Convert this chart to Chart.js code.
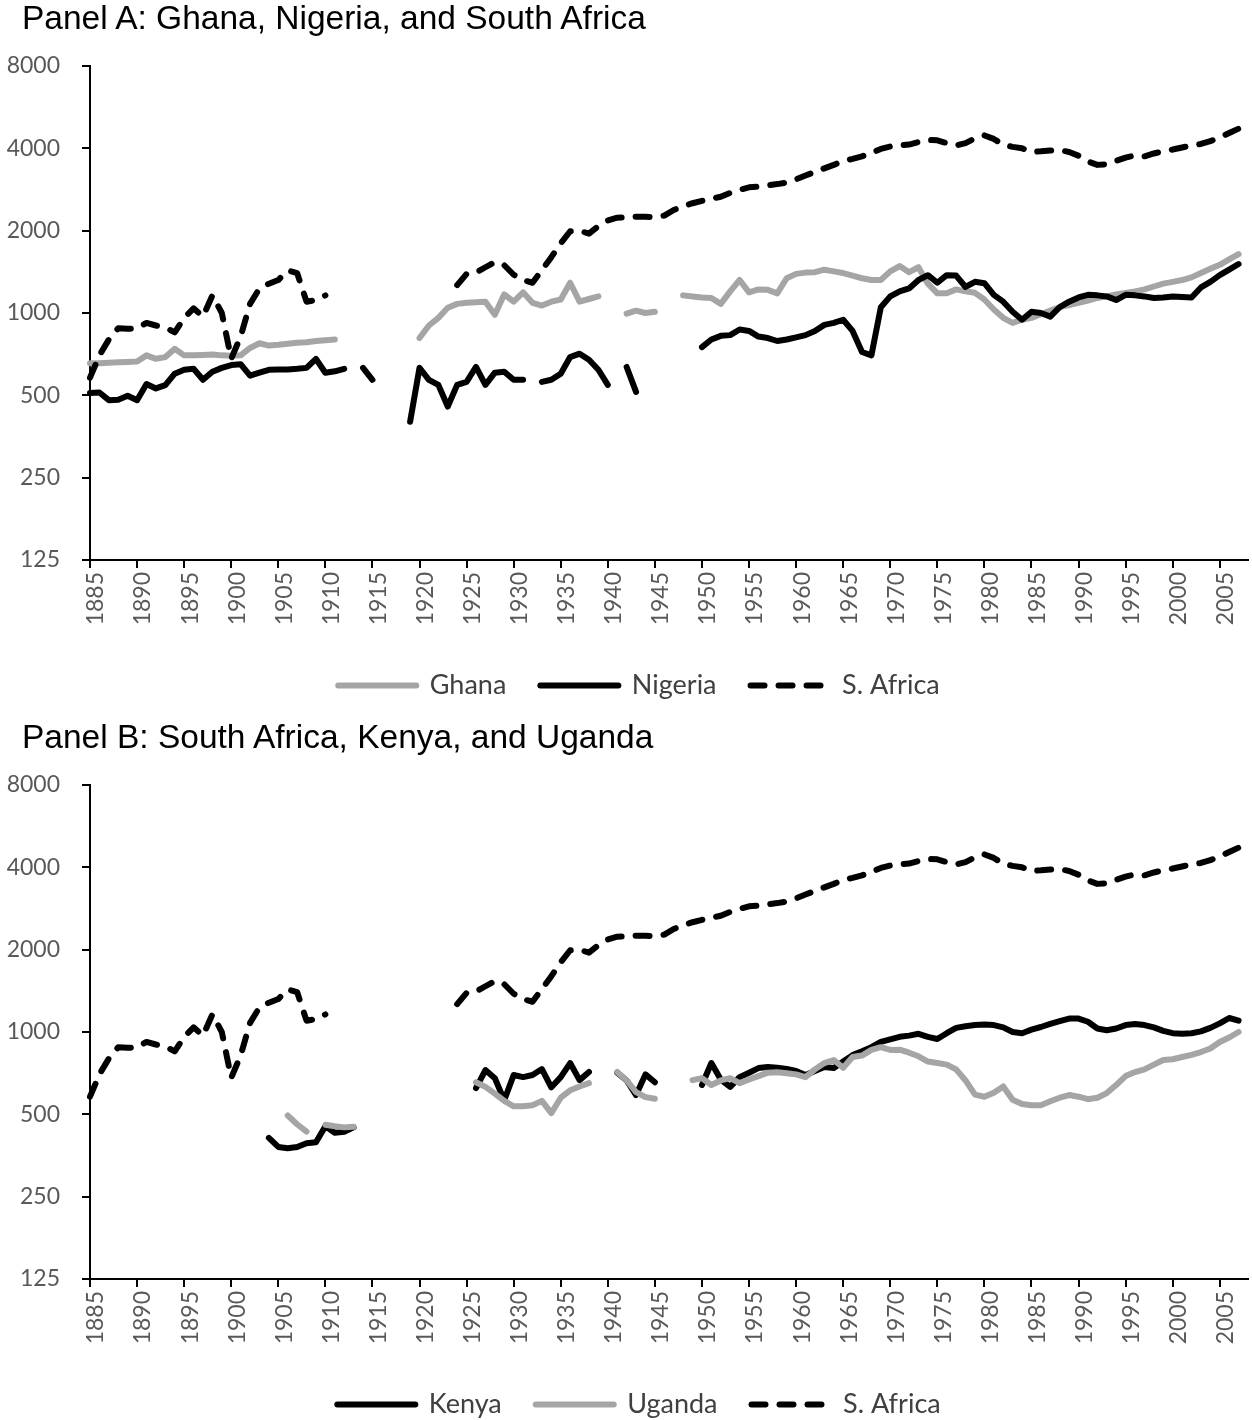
<!DOCTYPE html>
<html><head><meta charset="utf-8">
<script src="https://cdn.jsdelivr.net/npm/chart.js@4.4.1/dist/chart.umd.min.js"></script>
<style>
html,body{margin:0;padding:0;background:#fff;}
body{width:1252px;height:1420px;position:relative;overflow:hidden;}
.panel{position:absolute;left:0;width:1252px;height:710px;}
.title{position:absolute;left:22px;font-family:'Liberation Sans',Arial,sans-serif;font-size:33.5px;line-height:33px;color:#000;white-space:nowrap;z-index:2;}
</style></head><body>
<div class="panel" style="top:0"><canvas id="cA" width="1252" height="710"></canvas></div>
<div class="panel" style="top:719px"><canvas id="cB" width="1252" height="710"></canvas></div>
<div class="title" style="top:1px">Panel A: Ghana, Nigeria, and South Africa</div>
<div class="title" style="top:720px">Panel B: South Africa, Kenya, and Uganda</div>
<script>
const years = [1885,1886,1887,1888,1889,
1890,1891,1892,1893,1894,1895,1896,1897,1898,1899,
1900,1901,1902,1903,1904,1905,1906,1907,1908,1909,
1910,1911,1912,1913,1914,1915,1916,1917,1918,1919,
1920,1921,1922,1923,1924,1925,1926,1927,1928,1929,
1930,1931,1932,1933,1934,1935,1936,1937,1938,1939,
1940,1941,1942,1943,1944,1945,1946,1947,1948,1949,
1950,1951,1952,1953,1954,1955,1956,1957,1958,1959,
1960,1961,1962,1963,1964,1965,1966,1967,1968,1969,
1970,1971,1972,1973,1974,1975,1976,1977,1978,1979,
1980,1981,1982,1983,1984,1985,1986,1987,1988,1989,
1990,1991,1992,1993,1994,1995,1996,1997,1998,1999,
2000,2001,2002,2003,2004,2005,2006,2007,2008];

const xTickLabels = ['1885','1890','1895','1900','1905','1910','1915','1920','1925','1930','1935','1940','1945','1950','1955','1960','1965','1970','1975','1980','1985','1990','1995','2000','2005'];
const yTicks = [125,250,500,1000,2000,4000,8000];

const ghana = [655,655,658,660,662,
665,700,680,690,740,700,700,702,705,700,
698,700,745,775,760,765,772,778,782,790,
795,800,null,null,null,null,null,null,null,null,
810,900,960,1045,1080,1090,1095,1100,985,1170,
1100,1190,1090,1065,1100,1120,1290,1100,1125,1150,
null,null,995,1020,1000,1010,null,null,1160,1150,
1140,1135,1080,1200,1320,1190,1220,1215,1180,1340,
1390,1405,1410,1440,1420,1400,1370,1340,1320,1320,
1420,1485,1410,1470,1280,1180,1180,1220,1200,1185,
1120,1030,960,920,945,960,990,1020,1050,1070,
1090,1110,1135,1150,1170,1185,1200,1220,1250,1280,
1300,1320,1350,1400,1450,1500,1570,1640,null];

const nigeria = [510,512,480,482,498,
480,550,530,545,600,620,625,570,610,630,
645,650,590,605,620,622,622,625,630,680,
605,612,625,null,630,570,null,null,null,400,
630,570,546,455,546,560,635,546,605,610,
570,570,null,560,570,600,690,710,675,620,
546,null,635,515,null,null,null,null,null,null,
750,800,825,830,870,860,820,810,790,800,
815,830,860,905,920,945,860,720,700,1050,
1150,1200,1230,1320,1375,1290,1375,1370,1245,1300,
1285,1165,1100,1010,945,1010,1000,970,1050,1100,
1140,1165,1160,1150,1115,1165,1160,1150,1135,1140,
1150,1145,1140,1240,1300,1375,1440,1510,null];

const southAfrica = [580,700,800,880,875,
880,920,900,885,850,960,1040,970,1160,1000,
680,820,1080,1230,1280,1320,1430,1400,1100,1115,
1160,null,null,null,null,null,null,null,null,null,
null,null,null,null,1265,1390,1405,1470,1535,1495,
1380,1320,1290,1435,1600,1800,1990,2000,1950,2080,
2180,2230,2240,2250,2250,2240,2270,2380,2460,2520,
2570,2620,2660,2750,2820,2880,2900,2930,2960,3000,
3080,3180,3280,3380,3480,3600,3660,3740,3850,3980,
4060,4100,4130,4220,4290,4280,4180,4100,4180,4350,
4460,4330,4120,4050,4000,3880,3900,3930,3940,3880,
3760,3580,3480,3500,3600,3700,3770,3740,3830,3900,
3960,4030,4100,4150,4250,4380,4550,4720,null];

const kenya = [null,null,null,null,null,
null,null,null,null,null,null,null,null,null,null,
null,null,null,null,410,380,376,380,392,395,
452,428,432,448,null,null,null,null,null,null,
null,null,null,null,null,null,623,726,678,563,
696,684,696,732,628,684,770,667,714,null,
null,710,665,588,700,655,null,null,null,null,
640,770,670,630,684,710,738,745,740,732,
720,696,720,745,738,780,823,850,880,920,
940,960,970,985,960,943,990,1035,1050,1060,
1065,1060,1040,1000,990,1020,1043,1070,1095,1120,
1120,1090,1030,1015,1030,1060,1070,1060,1040,1010,
990,985,990,1005,1035,1075,1125,1100,null];

const uganda = [null,null,null,null,null,
null,null,null,null,null,null,null,null,null,null,
null,null,null,null,null,null,495,460,432,null,
458,452,448,450,null,null,null,null,null,null,
null,null,null,null,null,null,655,630,595,560,
535,535,540,560,505,575,612,632,650,null,
null,714,665,603,578,570,null,null,null,667,
678,640,665,678,650,670,690,710,712,707,
700,684,730,770,790,740,810,820,860,880,
860,862,840,815,780,770,760,730,665,590,
580,600,632,565,545,540,540,558,575,588,
580,568,575,598,640,690,714,730,760,790,
795,810,825,845,870,919,955,1000,null];

const FONT = "Lato, 'Liberation Sans', sans-serif";
const GRAY = '#a5a5a5';
const TICK_FONT = { family: FONT, size: 23 };
const LEGEND_FONT = { family: FONT, size: 27 };

Chart.defaults.font.family = FONT;
Chart.defaults.font.size = 23;
Chart.defaults.color = '#595959';

function line(label, data, color, order, dash) {
  return {
    label, data, order,
    borderColor: color, backgroundColor: color,
    borderWidth: 6, borderDash: dash || [],
    borderCapStyle: 'round', borderJoinStyle: 'round',
    pointRadius: 0, pointHoverRadius: 0, pointStyle: 'line',
    tension: 0, spanGaps: false, fill: false
  };
}

function legendLabels(chart) {
  const items = Chart.defaults.plugins.legend.labels.generateLabels(chart);
  items.forEach(it => {
    const ds = chart.data.datasets[it.datasetIndex];
    it.lineDash = ds.borderDash || [];
    it.lineWidth = 6;
    it.lineCap = 'round';
    it.strokeStyle = ds.borderColor;
    it.fillStyle = ds.borderColor;
    it.pointStyle = 'line';
  });
  return items;
}

// nudges the bottom legend so it sits where the original places it
const legendShift = {
  id: 'legendShift',
  afterLayout(chart) {
    const l = chart.legend;
    if (l) { l.left += 15; l.right += 15; }
  }
};

function makeChart(id, datasets) {
  return new Chart(document.getElementById(id), {
    type: 'line',
    data: { labels: years, datasets },
    plugins: [legendShift],
    options: {
      responsive: false, animation: false, devicePixelRatio: 1,
      layout: { padding: { top: 66, right: 4, left: 0, bottom: 1 } },
      plugins: {
        legend: {
          position: 'bottom',
          labels: {
            usePointStyle: true, pointStyleWidth: 78, boxWidth: 78,
            padding: 34, color: '#404040', font: LEGEND_FONT,
            generateLabels: legendLabels,
            sort: (a, b) => a.datasetIndex - b.datasetIndex
          }
        },
        tooltip: { enabled: false },
        title: { display: false }
      },
      scales: {
        x: {
          type: 'category', offset: false,
          grid: {
            display: true, drawOnChartArea: false, drawTicks: true, tickLength: 8, lineWidth: 2,
            color: c => (c.tick && c.tick.label) ? '#000' : 'rgba(0,0,0,0)'
          },
          border: { display: true, color: '#000', width: 2 },
          ticks: {
            autoSkip: false, minRotation: 90, maxRotation: 90, padding: 4, labelOffset: 6,
            color: '#595959', font: TICK_FONT,
            callback: function (v) {
              const yv = String(this.getLabelForValue(v));
              return xTickLabels.includes(yv) ? yv : '';
            }
          },
          afterFit: s => { s.height = 78; s.paddingLeft = 0; s.paddingRight = 0; }
        },
        y: {
          type: 'logarithmic', min: 125, max: 8000,
          afterBuildTicks: s => { s.ticks = yTicks.map(v => ({ value: v })); },
          grid: { display: true, drawOnChartArea: false, drawTicks: true, tickLength: 8, lineWidth: 2, color: '#000' },
          border: { display: true, color: '#000', width: 2 },
          ticks: {
            padding: 22, color: '#595959', font: TICK_FONT,
            callback: v => String(v)
          },
          afterFit: s => { s.width = 90; s.paddingTop = 0; s.paddingBottom = 0; }
        }
      }
    }
  });
}

makeChart('cA', [
  line('Ghana', ghana, GRAY, 3),
  line('Nigeria', nigeria, '#000000', 2),
  line('S. Africa', southAfrica, '#000000', 1, [14, 14])
]);
makeChart('cB', [
  line('Kenya', kenya, '#000000', 3),
  line('Uganda', uganda, GRAY, 2),
  line('S. Africa', southAfrica, '#000000', 1, [14, 14])
]);
</script>
</body></html>
